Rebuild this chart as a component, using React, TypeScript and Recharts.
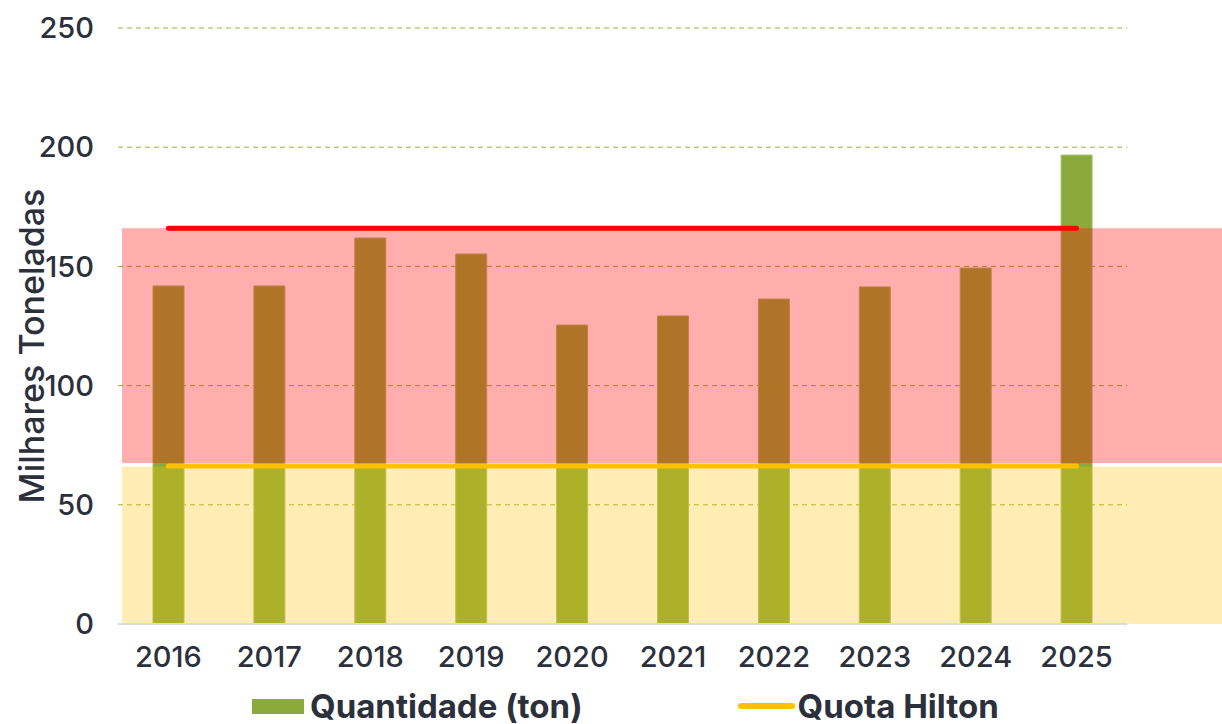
import React from 'react'
import {
  ComposedChart,
  Bar,
  Line,
  XAxis,
  YAxis,
  CartesianGrid,
  ReferenceArea,
  Legend,
} from 'recharts'

const years = ['2016', '2017', '2018', '2019', '2020', '2021', '2022', '2023', '2024', '2025']
const quantidade = [141.8, 141.8, 161.9, 155.2, 125.4, 129.2, 136.3, 141.4, 149.3, 196.7]
const quotaHilton = [66.3, 66.3, 66.3, 66.3, 66.3, 66.3, 66.3, 66.3, 66.3, 66.3]
const limite = [166, 166, 166, 166, 166, 166, 166, 166, 166, 166]
const yTicks = [0, 50, 100, 150, 200, 250]
const redBand = [67.5, 166]
const yellowBand = [0, 66]

const data = years.map((year, i) => ({
  year,
  quantidade: quantidade[i],
  quota: quotaHilton[i],
  limite: limite[i],
}))

const W = 1222
const H = 724
const TEXT = '#2b303b'
const FONT = 'Inter, "Noto Sans", sans-serif'

// band runs past the plot to the right edge of the picture
const bandShape = (fill: string) => (props: any) => {
  const { x, y, width, height } = props
  if (width == null) return null
  return <rect x={x + 4} y={y} width={W - x - 4} height={height} fill={fill} />
}

const AxisTitle = (props: any) => {
  const vb = props.viewBox || {}
  const cx = (vb.x ?? 0) + 31
  const cy = (vb.y ?? 0) + (vb.height ?? 0) / 2 + 20
  return (
    <text
      x={cx}
      y={cy}
      transform={`rotate(-90, ${cx}, ${cy})`}
      textAnchor="middle"
      dominantBaseline="central"
      fill={TEXT}
      fontSize={34}
      fontWeight={500}
      fontFamily={FONT}
    >
      Milhares Toneladas
    </text>
  )
}

const LegendContent = () => (
  <div
    style={{
      display: 'flex',
      alignItems: 'center',
      height: 40,
      fontFamily: FONT,
      fontWeight: 700,
      fontSize: 33,
      color: TEXT,
      paddingLeft: 252,
      marginTop: 2,
    }}
  >
    <span style={{ display: 'flex', alignItems: 'center', marginRight: 155 }}>
      <span style={{ width: 52, height: 15, background: '#8aab3a', marginRight: 6 }} />
      Quantidade (ton)
    </span>
    <span style={{ display: 'flex', alignItems: 'center' }}>
      <span
        style={{ width: 57, height: 6, borderRadius: 3, background: '#ffc000', marginRight: 3 }}
      />
      Quota Hilton
    </span>
  </div>
)

export default function App() {
  return (
    <div style={{ position: 'absolute', left: 0, top: 0, width: W, height: H, background: '#fff' }}>
      <ComposedChart
        width={W}
        height={H}
        data={data}
        margin={{ top: 28, right: 95, bottom: 0, left: 0 }}
      >
        <CartesianGrid vertical={false} stroke="#92b43c" strokeDasharray="5 4" />
        <XAxis
          dataKey="year"
          height={60}
          tickLine={false}
          axisLine={{ stroke: '#d9dce3', strokeWidth: 2 }}
          tick={{ fill: TEXT, fontSize: 29, fontWeight: 500, fontFamily: FONT }}
          tickMargin={16}
        />
        <YAxis
          width={118}
          domain={[0, 250]}
          ticks={yTicks}
          tickLine={false}
          axisLine={false}
          tick={{ fill: TEXT, fontSize: 29, fontWeight: 500, fontFamily: FONT }}
          tickMargin={18}
          label={<AxisTitle />}
        />
        <Legend verticalAlign="bottom" height={40} content={<LegendContent />} />
        <Bar
          dataKey="quantidade"
          name="Quantidade (ton)"
          fill="#8aab3a"
          stroke="#a3c06a"
          strokeWidth={1}
          barSize={31}
          isAnimationActive={false}
        />
        <ReferenceArea
          y1={redBand[0]}
          y2={redBand[1]}
          ifOverflow="visible"
          zIndex={350}
          shape={bandShape('rgba(255,0,0,0.32)')}
        />
        <ReferenceArea
          y1={yellowBand[0]}
          y2={yellowBand[1]}
          ifOverflow="visible"
          zIndex={350}
          shape={bandShape('rgba(255,192,0,0.29)')}
        />
        <Line
          dataKey="limite"
          stroke="#ff0000"
          strokeWidth={5}
          strokeLinecap="round"
          dot={false}
          activeDot={false}
          legendType="none"
          isAnimationActive={false}
        />
        <Line
          dataKey="quota"
          name="Quota Hilton"
          stroke="#ffc000"
          strokeWidth={5}
          strokeLinecap="round"
          dot={false}
          activeDot={false}
          isAnimationActive={false}
        />
      </ComposedChart>
    </div>
  )
}
